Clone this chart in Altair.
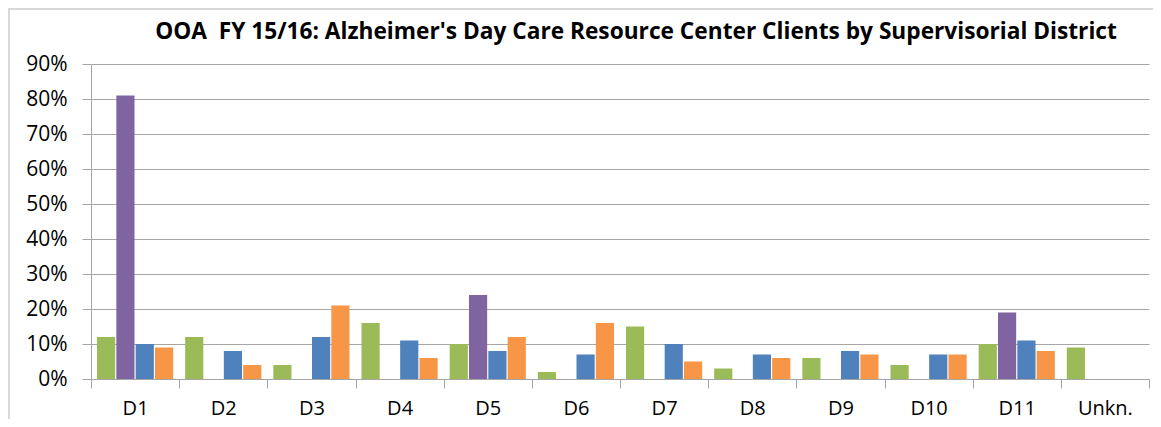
import altair as alt
import pandas as pd

categories = ["D1", "D2", "D3", "D4", "D5", "D6", "D7", "D8", "D9", "D10", "D11", "Unkn."]
series_names = ["Series 1", "Series 2", "Series 3", "Series 4"]
series_colors = ["#9BBB59", "#8064A2", "#4F81BD", "#F79646"]
green_vals = [12, 12, 4, 16, 10, 2, 15, 3, 6, 4, 10, 9]
purple_vals = [81, 0, 0, 0, 24, 0, 0, 0, 0, 0, 19, 0]
blue_vals = [10, 8, 12, 11, 8, 7, 10, 7, 8, 7, 11, 0]
orange_vals = [9, 4, 21, 6, 12, 16, 5, 6, 7, 7, 8, 0]
y_ticks = [0, 0.1, 0.2, 0.3, 0.4, 0.5, 0.6, 0.7, 0.8, 0.9]
title_text = "OOA\u00a0 FY 15/16: Alzheimer's Day Care Resource Center Clients by Supervisorial District"

rows = []
for name, vals in zip(series_names, [green_vals, purple_vals, blue_vals, orange_vals]):
    for c, v in zip(categories, vals):
        rows.append({"district": c, "series": name, "value": v / 100.0})
df = pd.DataFrame(rows)

FONT = "Open Sans"
GRID = "#a6a6a6"

bars = alt.Chart(df).mark_bar().encode(
    x=alt.X("district:N", sort=categories,
            scale=alt.Scale(paddingInner=0, paddingOuter=0),
            axis=alt.Axis(title=None, labelAngle=0, tickBand="extent", tickSize=9,
                          labelPadding=10, labelFont=FONT, labelFontSize=20,
                          labelColor="#000000", domainColor=GRID, tickColor=GRID,
                          grid=False)),
    xOffset=alt.XOffset("series:N", sort=series_names,
                        scale=alt.Scale(paddingInner=0.06, paddingOuter=0.31)),
    y=alt.Y("value:Q",
            scale=alt.Scale(domain=[0, 0.9], nice=False),
            axis=alt.Axis(title=None, values=y_ticks, format=".0%", tickSize=9,
                          labelPadding=15, labelFont=FONT, labelFontSize=21,
                          labelColor="#000000", gridColor=GRID, domainColor=GRID,
                          tickColor=GRID)),
    color=alt.Color("series:N", sort=series_names,
                    scale=alt.Scale(domain=series_names, range=series_colors),
                    legend=None),
)

frame = alt.Chart(pd.DataFrame({"k": [0]})).mark_rect(
    fill="transparent", stroke="#d9d9d9", strokeWidth=2
).encode(
    x=alt.value(-82), x2=alt.value(1300), y=alt.value(-55), y2=alt.value(600)
)

title = alt.Chart(pd.DataFrame({"t": [title_text]})).mark_text(
    font=FONT, fontSize=22.7, fontWeight="bold", color="#000000",
    align="center", baseline="alphabetic"
).encode(
    text="t:N", x=alt.value(545), y=alt.value(-25)
)

chart = alt.layer(frame, bars, title).properties(
    width=1058,
    height=315,
    autosize=alt.AutoSizeParams(type="none"),
    padding={"left": 83, "top": 56, "right": 4, "bottom": 40},
).configure_view(stroke="transparent")

chart.save("out.html", embed_options={"renderer": "svg", "actions": False})
